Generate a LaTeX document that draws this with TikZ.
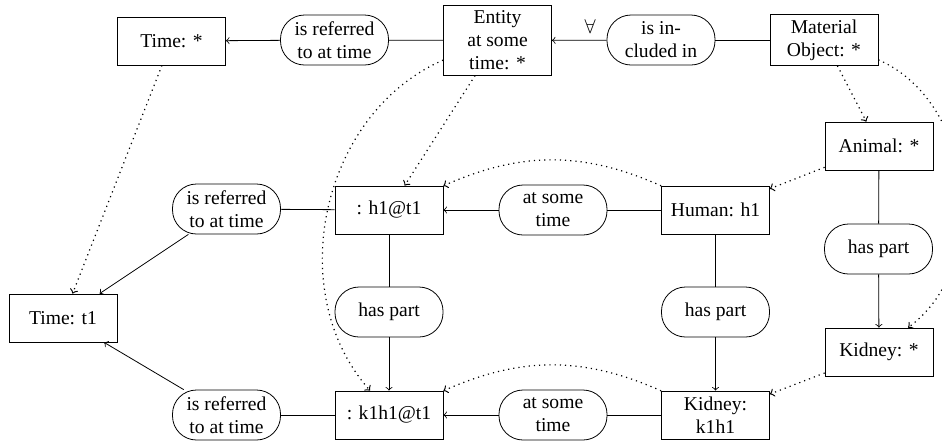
\documentclass[tikz,border=0pt]{standalone}
\usepackage{fontspec}
\setmainfont{Liberation Serif}

\newlength\boxw
\setlength\boxw{54pt}
\newlength\boxh
\setlength\boxh{24pt}

\begin{document}
\begin{tikzpicture}[x=0.5pt,y=-0.5pt,
    font=\fontsize{9.8}{11.5}\selectfont,
    concept/.style={draw, minimum width=\boxw, minimum height=\boxh, inner sep=2.5pt, align=center},
    relation/.style={draw, rounded corners=12pt, minimum width=\boxw, minimum height=25pt, inner sep=2.5pt, align=center},
    link/.style={->},
    isa/.style={->, dotted, line width=0.6pt}]
  \useasboundingbox (0,0) rectangle (942,446);

  % top row
  \node[concept]  (timeany) at (171.5,41) {Time: *};
  \node[relation] (refer0)  at (334.5,40) {is referred\\to at time};
  \node[concept]  (entity)  at (497.5,40.5) {Entity\\at some\\time: *};
  \node[relation] (incl)    at (661,40)   {is in-\\cluded in};
  \node[concept]  (matobj)  at (824,40)   {Material\\Object: *};

  % right column
  \node[concept]  (animal)    at (879,146)   {Animal: *};
  \node[relation] (haspart0)  at (878.5,249) {has part};
  \node[concept]  (kidneyany) at (879,352)   {Kidney: *};

  % individuals
  \node[concept]  (timet1)   at (63,318)    {Time: t1};
  \node[relation] (refer1)   at (226.5,209) {is referred\\to at time};
  \node[concept]  (h1t1)     at (389,210)   {: h1@t1};
  \node[relation] (atsome1)  at (553,210)   {at some\\time};
  \node[concept]  (human)    at (715.5,210) {Human: h1};
  \node[relation] (haspart1) at (389,312)   {has part};
  \node[relation] (haspart2) at (715.5,312) {has part};
  \node[relation] (refer2)   at (226.5,415) {is referred\\to at time};
  \node[concept]  (k1t1)     at (389,415)   {: k1h1@t1};
  \node[relation] (atsome2)  at (553,415)   {at some\\time};
  \node[concept]  (kidneyk)  at (715.5,415) {Kidney:\\k1h1};

  \draw (entity) -- (refer0);
  \draw[link] (refer0) -- (timeany);
  \draw (matobj) -- (incl);
  \draw[link] (incl) -- node[above, pos=0.3] {$\forall$} (entity);
  \draw (animal) -- (haspart0);
  \draw[link] (haspart0) -- (kidneyany);

  \draw (human) -- (atsome1);
  \draw[link] (atsome1) -- (h1t1);
  \draw (h1t1) -- (refer1);
  \draw[link] (refer1) -- (timet1);
  \draw (h1t1) -- (haspart1);
  \draw[link] (haspart1) -- (k1t1);
  \draw (human) -- (haspart2);
  \draw[link] (haspart2) -- (kidneyk);
  \draw (kidneyk) -- (atsome2);
  \draw[link] (atsome2) -- (k1t1);
  \draw (k1t1) -- (refer2);
  \draw[link] (refer2) -- (timet1);

  % type links
  \draw[isa] (timeany) -- (timet1);
  \draw[isa] (entity) -- (h1t1);
  \draw[isa] (entity) to[bend right=54] (k1t1);
  \draw[isa] (matobj) -- (animal);
  \draw[isa] (matobj) to[bend left=60] (kidneyany);
  \draw[isa] (animal) -- (human);
  \draw[isa] (kidneyany) -- (kidneyk);
  \draw[isa] (human) to[bend right=24] (h1t1);
  \draw[isa] (kidneyk) to[bend right=24] (k1t1);
\end{tikzpicture}
\end{document}
